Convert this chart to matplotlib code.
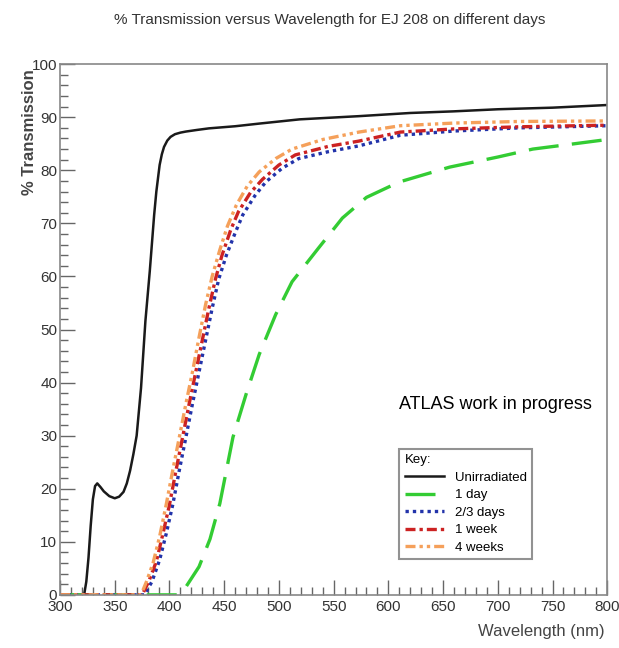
import numpy as np
import matplotlib
matplotlib.use('Agg')
import matplotlib.pyplot as plt
from matplotlib.ticker import MultipleLocator

plt.rcParams['font.family'] = ['Liberation Sans Narrow', 'Liberation Sans', 'DejaVu Sans']

# (wavelength nm, % transmission)
wl_unirr = [300, 322, 324, 326, 328, 330, 332, 334, 337, 340, 345, 350, 354, 358, 361, 364, 367, 370,
            374, 378, 382, 386, 388, 391, 393, 395, 398, 401, 405, 410, 415, 425, 436, 460, 482, 519,
            573, 620, 659, 700, 750, 800]
tr_unirr = [0, 0, 2.5, 7, 13, 18, 20.5, 21, 20.3, 19.5, 18.6, 18.2, 18.5, 19.4, 21, 23.4, 26.5, 30,
            39, 51.6, 61, 71.6, 76, 81, 83, 84.4, 85.6, 86.3, 86.8, 87.1, 87.3, 87.6, 87.9, 88.3, 88.8, 89.6,
            90.2, 90.8, 91.1, 91.5, 91.8, 92.3]

wl_1day = [300, 407, 415, 427, 437, 446, 458, 470, 482, 497, 512, 536, 558, 580, 610, 656, 700, 732, 770, 800]
tr_1day = [0, 0, 1.5, 5.3, 10.5, 17.2, 29.7, 37.8, 45.3, 52.8, 59, 65.3, 71, 74.9, 77.8, 80.6, 82.5, 84, 85, 85.8]

wl_23days = [300, 377, 384, 391, 397, 403, 409, 415, 421, 427, 433, 439, 445, 452, 460, 467, 478,
             488, 503, 518, 545, 573, 611, 660, 720, 800]
tr_23days = [0, 0, 2.5, 6.6, 11.5, 17, 23.5, 29.7, 36, 42, 48, 54, 59.5, 64, 68.2, 71.6, 75.2,
             77.8, 80.4, 82.2, 83.5, 84.6, 86.6, 87.4, 88, 88.4]

wl_1week = [300, 375, 381, 388, 394, 400, 406, 412, 418, 424, 430, 436, 442, 448, 456, 463, 474,
            485, 500, 515, 545, 573, 611, 660, 720, 800]
tr_1week = [0, 0, 2.5, 6.3, 11.5, 17, 23.5, 29.7, 36, 42, 48, 54, 59.5, 64, 68.8, 72.2, 75.8,
            78.3, 81, 82.9, 84.5, 85.5, 87.2, 87.8, 88.2, 88.5]

wl_4weeks = [300, 374, 379, 385, 391, 397, 403, 409, 415, 421, 427, 433, 439, 446, 453, 461, 471,
             482, 497, 512, 540, 573, 611, 660, 720, 800]
tr_4weeks = [0, 0, 2.5, 6, 11, 17, 23.5, 29.7, 36, 42, 48.5, 54.7, 60, 65, 69.5, 73.4, 77,
             79.7, 82.2, 84, 85.8, 87.2, 88.4, 88.9, 89.2, 89.3]

fig = plt.figure(figsize=(6.19, 6.48), dpi=100)
ax = fig.add_axes([0.097, 0.082, 0.884, 0.819])

ax.plot(wl_unirr, tr_unirr, color='#1a1a1a', lw=1.8, label='Unirradiated')
ax.plot(wl_1day, tr_1day, color='#33cc33', lw=2.4, ls=(0, (9, 4)), label='1 day')
ax.plot(wl_23days, tr_23days, color='#2233aa', lw=2.4, ls=(0, (1, 1.2)), label='2/3 days')
ax.plot(wl_1week, tr_1week, color='#cc2222', lw=2.4, ls=(0, (3, 1.2, 1, 1.2)), label='1 week')
ax.plot(wl_4weeks, tr_4weeks, color='#f5a05a', lw=2.4, ls=(0, (3, 1.2, 1, 1.2, 1, 1.2)), label='4 weeks')

ax.set_xlim(300, 800)
ax.set_ylim(0, 100)
ax.xaxis.set_major_locator(MultipleLocator(50))
ax.xaxis.set_minor_locator(MultipleLocator(10))
ax.yaxis.set_major_locator(MultipleLocator(10))
ax.yaxis.set_minor_locator(MultipleLocator(2))
ax.tick_params(which='both', direction='in', color='#666666', labelsize=11, labelcolor='#333333')
ax.tick_params(which='major', length=11, width=1)
ax.tick_params(which='minor', length=6, width=1)
ax.tick_params(axis='x', pad=4)
ax.tick_params(axis='y', pad=2)
for s in ax.spines.values():
    s.set_color('#888888')
    s.set_linewidth(1.2)

fig.text(0.533, 0.969, '% Transmission versus Wavelength for EJ 208 on different days',
         ha='center', va='center', fontsize=11, color='#333333')
ax.set_xlabel('Wavelength (nm)', fontsize=12, color='#444444')
ax.xaxis.set_label_coords(0.995, -0.055)
ax.xaxis.label.set_ha('right')
ax.set_ylabel('% Transmission', fontsize=12, color='#444444', fontweight='bold')
ax.yaxis.set_label_coords(-0.07, 0.99)
ax.yaxis.label.set_va('top')
ax.yaxis.label.set_ha('right')

ax.text(0.62, 0.35, 'ATLAS work in progress', transform=ax.transAxes, fontsize=13,
        color='black', family=['Liberation Sans', 'DejaVu Sans'])

leg = ax.legend(loc='upper left', bbox_to_anchor=(0.62, 0.275), title='Key:', fontsize=9.5,
                frameon=True, fancybox=False, edgecolor='#777777', handlelength=3,
                borderpad=0.4, labelspacing=0.4, alignment='left', borderaxespad=0)
leg.get_title().set_fontsize(9.5)
leg.get_frame().set_linewidth(1.5)

fig.savefig('out.png', dpi=100)
